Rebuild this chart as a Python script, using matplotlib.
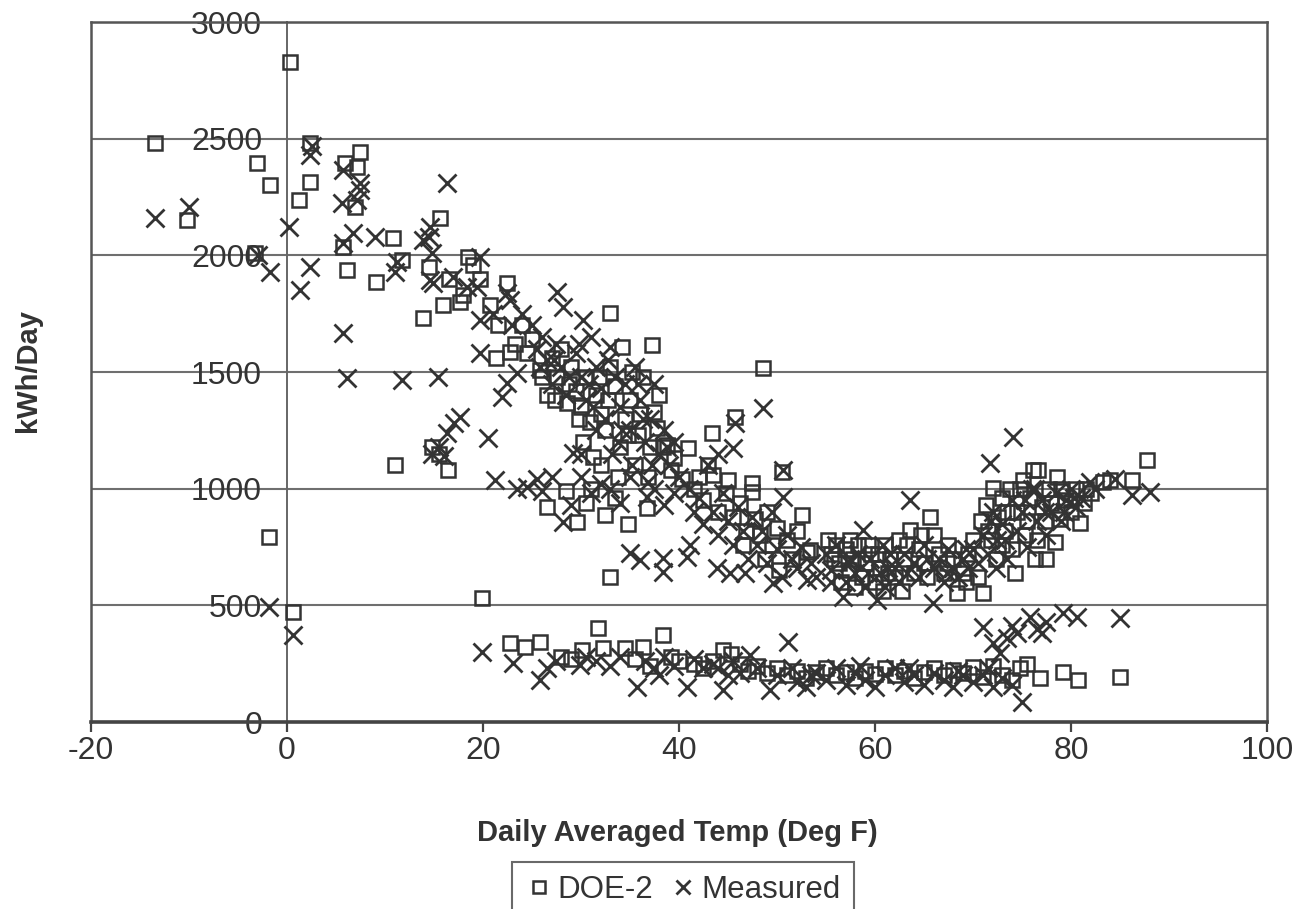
import matplotlib
matplotlib.use('Agg')
import matplotlib.pyplot as plt

plt.rcParams['font.family'] = ['Liberation Sans', 'DejaVu Sans']
plt.rcParams['axes.unicode_minus'] = False

# DOE-2 simulated daily energy (squares)
doe_x = [-13.5, -10.2, -3.1, -1.7, -3.3, 0.3, -1.8, 0.6, 2.3, 2.3, 1.2, 7.4, 7.1, 5.9, 6.9, 5.7, 6.1, 9.1, 10.8, 11.7, 11.0,
         13.9, 15.6, 15.9, 17.7, 18.5, 19.0, 19.7, 20.7, 22.4, 21.5, 22.8, 21.3, 23.3, 14.8, 16.4, 15.5, 18.0, 16.5, 14.5,
         24.0, 25.0, 25.8, 26.5, 27.0, 27.6, 28.6, 28.0, 29.0, 29.5, 30.0, 30.5, 30.9, 31.2, 31.5, 32.0, 32.5, 33.0, 33.0,
         33.5, 34.2, 34.0, 34.5, 35.0, 35.5, 35.8, 36.3, 36.8, 37.2, 37.5, 37.8, 38.4, 38.8, 39.2, 39.5, 40.9, 40.3,
         24.5, 26.0, 27.3, 28.8, 29.8, 31.8, 32.8, 34.8, 36.0, 37.0, 38.0, 35.2, 30.2, 32.0, 33.8,
         26.5, 29.6, 32.4, 34.8, 36.7, 28.5, 31.0, 33.5, 30.5,
         43.4, 45.7, 48.6, 45.0, 47.4, 47.4, 50.5, 52.6, 53.1, 53.4, 41.5, 42.5, 43.5, 44.0, 44.8, 45.5, 46.2, 46.8, 47.8,
         48.3, 49.0, 49.5, 50.0, 51.0, 51.5, 52.0, 50.2, 48.8, 46.5, 43.0, 42.0,
         55.2, 55.5, 56.0, 56.3, 57.0, 57.3, 57.8, 58.3, 58.7, 59.0, 59.6, 60.0, 60.5, 61.0, 61.5, 62.0, 62.5, 63.0, 63.6,
         64.0, 64.5, 65.0, 65.6, 66.0, 66.5, 67.0, 67.5, 68.0, 68.4, 69.0, 69.5, 70.0, 71.0, 70.5, 58.0, 60.8, 56.5, 62.8,
         55.8, 57.5, 59.3, 61.3, 63.3, 65.3, 67.3, 69.3, 64.7, 60.3,
         70.8, 71.3, 71.8, 72.0, 72.3, 72.6, 73.0, 73.3, 73.8, 74.0, 74.3, 74.5, 75.1, 75.5, 75.8, 76.1, 76.6, 76.5, 77.0,
         77.4, 77.8, 78.4, 78.6, 78.9, 79.4, 80.0, 80.9, 80.5, 81.3, 82.0, 83.3, 84.0, 86.2, 87.8,
         71.5, 73.5, 75.3, 77.3, 79.0, 81.5, 76.3, 73.0, 78.0, 74.8,
         19.9, 22.8, 24.3, 25.8, 30.1, 31.7, 32.2, 33.0, 34.5, 36.3, 38.4, 39.2, 40.0, 41.5, 42.5, 44.5, 45.3, 46.2, 47.0,
         48.0, 49.0, 50.0, 51.0, 52.0, 53.0, 54.0, 55.0, 56.0, 57.0, 58.0, 59.0, 60.0, 61.0, 62.0, 63.0, 64.0, 65.0, 66.0,
         67.0, 68.0, 69.0, 70.0, 71.0, 72.0, 73.0, 74.0, 74.8, 75.5, 76.8, 79.2, 80.7, 85.0, 28.0, 29.0, 35.5, 37.0, 43.5]
doe_y = [2480, 2152, 2396, 2301, 2010, 2829, 793, 471, 2480, 2314, 2237, 2443, 2379, 2396, 2207, 2036, 1937, 1886, 2074, 1980, 1101,
         1731, 2160, 1787, 1800, 1993, 1960, 1900, 1787, 1881, 1700, 1586, 1560, 1620, 1179, 1080, 1150, 1830, 1900, 1950,
         1700, 1640, 1508, 1401, 1560, 1479, 1367, 1600, 1520, 1420, 1350, 1480, 1286, 1136, 1400, 1320, 1250, 1753, 1521,
         1440, 1607, 1180, 1300, 1380, 1100, 1230, 1480, 1050, 1616, 1330, 1260, 1179, 1187, 1080, 1130, 1174, 1040,
         1580, 1480, 1380, 1450, 1300, 1480, 1380, 1230, 1320, 1180, 1400, 1500, 1200, 1100, 1050,
         921, 857, 887, 850, 917, 990, 1000, 960, 940,
         1239, 1307, 1517, 1037, 1024, 985, 1072, 887, 729, 737, 1000, 950, 1060, 900, 980, 880, 940, 820, 870,
         800, 900, 760, 830, 780, 700, 820, 650, 700, 760, 1100, 1050,
         780, 720, 760, 680, 740, 650, 700, 760, 620, 680, 720, 600, 660, 760, 700, 620, 780, 700, 823,
         640, 740, 680, 879, 800, 720, 640, 760, 700, 553, 640, 720, 780, 553, 620, 580, 560, 600, 560,
         700, 780, 760, 640, 760, 620, 680, 600, 800, 720,
         860, 930, 780, 1003, 700, 880, 960, 820, 1000, 740, 639, 900, 1037, 860, 960, 1080, 1080, 780, 920,
         700, 1000, 771, 1050, 870, 950, 900, 853, 1000, 940, 980, 1030, 1037, 1037, 1123,
         820, 900, 800, 860, 1000, 1000, 700, 760, 940, 1000,
         531, 338, 321, 343, 309, 403, 317, 621, 317, 320, 373, 280, 260, 250, 230, 309, 290, 250, 220,
         240, 210, 230, 200, 220, 190, 215, 230, 200, 215, 190, 220, 205, 230, 200, 220, 190, 215, 230,
         200, 225, 210, 236, 195, 240, 200, 180, 231, 250, 189, 214, 180, 193, 280, 270, 270, 240, 260]

# Measured daily energy (crosses)
meas_x = [-13.5, -10.0, -3.0, -1.7, -1.8, 0.6, 0.2, 1.3, 2.3, 2.3, 2.5, 5.6, 5.7, 7.4, 7.1, 7.4, 6.7, 9.0, 5.7, 5.7, 6.1,
          11.7, 11.2, 11.0,
          13.9, 14.8, 14.9, 14.6, 14.6, 15.4, 16.3, 16.9, 18.4, 19.4, 19.7, 19.7, 19.7, 20.5, 21.2, 21.9, 22.4, 22.8, 23.5,
          22.4, 17.7, 16.3, 14.8, 15.5, 16.0, 17.0, 14.5, 21.0, 23.0, 24.0,
          27.6, 28.2, 30.2, 25.0, 25.5, 26.0, 26.5, 27.0, 27.5, 28.0, 28.5, 29.2, 29.5, 30.0, 30.5, 31.0, 31.5, 32.0, 32.5,
          33.0, 33.5, 34.0, 34.5, 35.0, 35.5, 36.0, 36.5, 37.0, 37.5, 38.0, 38.5, 39.0, 39.5, 40.0, 33.8, 35.2, 36.8, 31.5,
          30.0,
          25.8, 27.2, 28.8, 29.8, 31.2, 32.8, 34.2, 35.8, 37.2, 38.8, 33.2, 36.3, 30.8,
          24.5, 25.5, 26.0, 27.0, 28.2, 29.0, 30.0, 31.0, 32.0, 33.0, 34.0, 35.0, 36.7, 37.5, 38.5, 39.5, 23.5,
          48.6, 45.7, 45.5, 50.6, 50.6, 43.0, 44.0, 41.0, 41.5, 42.0, 42.5, 43.5, 44.0, 44.5, 45.0, 45.5, 46.0, 46.5, 47.0,
          47.5, 48.0, 48.5, 49.0, 49.5, 50.0, 50.5, 51.0, 51.5, 52.0, 52.5, 53.1, 53.5, 54.0,
          35.0, 36.0, 38.4, 38.4, 40.8, 41.1, 43.9, 45.2, 46.7, 49.6,
          55.0, 55.5, 56.0, 56.7, 57.0, 57.5, 58.0, 58.8, 59.0, 59.5, 60.2, 60.5, 61.0, 61.5, 62.0, 62.5, 63.0, 63.6, 64.0,
          64.5, 65.0, 65.9, 66.0, 66.5, 67.0, 67.5, 68.0, 68.5, 69.0, 69.5, 70.0,
          55.5, 57.3, 59.3, 61.3, 63.3, 65.3, 67.3, 69.3, 60.8, 58.3,
          74.1, 71.7, 81.9, 86.2, 88.1, 70.5, 71.0, 71.5, 72.0, 72.5, 73.0, 73.5, 74.0, 74.5, 75.0, 75.5, 76.0, 76.5, 77.0,
          77.5, 78.0, 78.5, 79.0, 79.5, 80.0, 80.5, 81.0, 82.5, 84.5,
          71.8, 73.3, 75.3, 77.3, 79.3, 76.3, 80.3, 72.3,
          19.9, 23.1, 25.8, 29.9, 30.5, 31.5, 33.0, 34.0, 35.7, 36.5, 37.5, 38.5, 39.5, 40.8, 41.5, 42.5, 43.5, 44.5, 45.5,
          46.2, 47.2, 48.0, 49.3, 50.0, 51.1, 51.5, 52.0, 53.0, 54.0, 55.0, 56.0, 57.0, 58.0, 59.0, 60.0, 61.0, 62.0, 63.0,
          64.0, 65.0, 66.0, 67.0, 68.0, 69.0, 70.0, 71.0, 72.0, 73.0, 74.0, 75.0, 27.5, 26.5,
          45.0, 53.5, 58.5, 63.5, 68.5, 71.5, 44.0, 38.0,
          71.0, 72.0, 72.8, 74.0, 74.5, 75.8, 76.5, 77.0, 77.5, 79.2, 80.6, 85.0, 73.5]
meas_y = [2160, 2207, 2000, 1929, 493, 373, 2122, 1851, 1950, 2430, 2470, 2224, 2366, 2310, 2237, 2280, 2096, 2079, 2053, 1667, 1474,
          1466, 1972, 1930,
          2066, 2010, 1881, 2122, 1894, 1479, 2310, 1907, 1864, 1864, 1993, 1723, 1581, 1217, 1037, 1393, 1453, 1809, 1496,
          1839, 1307, 1239, 1150, 1180, 1140, 1280, 2080, 1750, 1700, 1750,
          1843, 1779, 1723, 1700, 1600, 1650, 1550, 1450, 1620, 1520, 1400, 1153, 1580, 1480, 1380, 1650, 1520, 1430, 1300,
          1607, 1480, 1350, 1450, 1250, 1520, 1380, 1200, 1300, 1450, 1150, 1250, 1100, 1200, 1050, 1200, 1100, 1030, 1250,
          1150,
          1520, 1550, 1480, 1620, 1350, 1550, 1250, 1450, 1100, 1180, 1150, 1300, 1450,
          1007, 1040, 990, 1050, 857, 930, 1050, 980, 1020, 1000, 940, 1050, 964, 1000, 930, 980, 1000,
          1346, 1281, 1174, 1080, 964, 1100, 1150, 1000, 900, 960, 850, 900, 800, 980, 860, 760, 920, 820, 700,
          880, 760, 820, 680, 900, 740, 620, 800, 700, 660, 750, 609, 680, 620,
          724, 694, 703, 643, 707, 759, 660, 639, 640, 596,
          720, 650, 760, 536, 600, 700, 640, 823, 580, 700, 523, 640, 580, 720, 660, 600, 720, 951, 680,
          620, 760, 510, 660, 700, 600, 740, 660, 620, 700, 660, 740,
          600, 680, 640, 660, 640, 700, 640, 740, 760, 720,
          1222, 1110, 1029, 973, 986, 680, 800, 720, 900, 780, 850, 700, 950, 820, 900, 750, 1000, 860, 950,
          800, 900, 980, 860, 950, 1000, 920, 960, 1000, 1040,
          860, 780, 950, 900, 900, 1000, 960, 660,
          300, 253, 180, 244, 280, 260, 240, 280, 150, 260, 230, 280, 240, 150, 270, 230, 250, 137, 260,
          210, 287, 230, 137, 200, 343, 230, 170, 150, 210, 180, 230, 160, 210, 180, 150, 200, 230, 170,
          200, 160, 210, 180, 150, 200, 170, 200, 150, 190, 160, 86, 260, 230,
          200, 200, 240, 230, 220, 230, 230, 200,
          407, 339, 296, 410, 380, 450, 400, 380, 430, 467, 450, 446, 360]

x_ticks = [-20, 0, 20, 40, 60, 80, 100]
y_ticks = [0, 500, 1000, 1500, 2000, 2500, 3000]

ink = '#333333'

fig = plt.figure(figsize=(13.02, 9.09), dpi=100)
ax = fig.add_axes([0.0699, 0.2057, 0.9032, 0.770])

ax.plot(doe_x, doe_y, ls='none', marker='s', ms=10.5, mfc='none', mec=ink, mew=1.8, label='DOE-2', zorder=3)
ax.plot(meas_x, meas_y, ls='none', marker='x', ms=12.5, mec=ink, mew=2.0, label='Measured', zorder=3)

ax.set_xlim(-20, 100)
ax.set_ylim(0, 3000)
ax.set_xticks(x_ticks)
ax.set_yticks(y_ticks)

ax.yaxis.grid(True, color='#6f6f6f', lw=1.5)
ax.set_axisbelow(True)

# value axis crosses at x = 0, plot frame drawn separately
ax.spines['left'].set_position(('data', 0))
ax.spines['left'].set_color('#666666')
ax.spines['left'].set_linewidth(1.4)
ax.spines['bottom'].set_linewidth(2.6)
ax.spines['bottom'].set_color('#444444')
for s in ['top', 'right']:
    ax.spines[s].set_color('#555555')
    ax.spines[s].set_linewidth(1.8)
ax.plot([0, 0], [0, 1], transform=ax.transAxes, color='#555555', lw=1.8, clip_on=False)

ax.tick_params(axis='y', length=0, pad=18, labelsize=23, labelcolor=ink)
ax.tick_params(axis='x', direction='out', length=7, width=1.6, color='#444444', pad=3, labelsize=23, labelcolor=ink)

fig.text(0.52, 1 - 833 / 909, 'Daily Averaged Temp (Deg F)', ha='center', va='center',
         fontsize=21, fontweight='bold', color=ink)
fig.text(28 / 1302, 1 - 370 / 909, 'kWh/Day', ha='center', va='center', rotation=90,
         fontsize=21, fontweight='bold', color=ink)

# legend box runs off the bottom edge, as in the scanned original
leg = ax.legend(loc='upper center', bbox_to_anchor=(683 / 1302, 1 - 862 / 909), bbox_transform=fig.transFigure,
                borderaxespad=0, ncol=2, frameon=True, fancybox=False, edgecolor='#444444', fontsize=22.5,
                handletextpad=0.15, columnspacing=0.5, handlelength=0.9, borderpad=0.4, markerscale=0.8)
leg.get_frame().set_linewidth(1.5)
for t in leg.get_texts():
    t.set_color(ink)

fig.savefig('out.png', dpi=100)
